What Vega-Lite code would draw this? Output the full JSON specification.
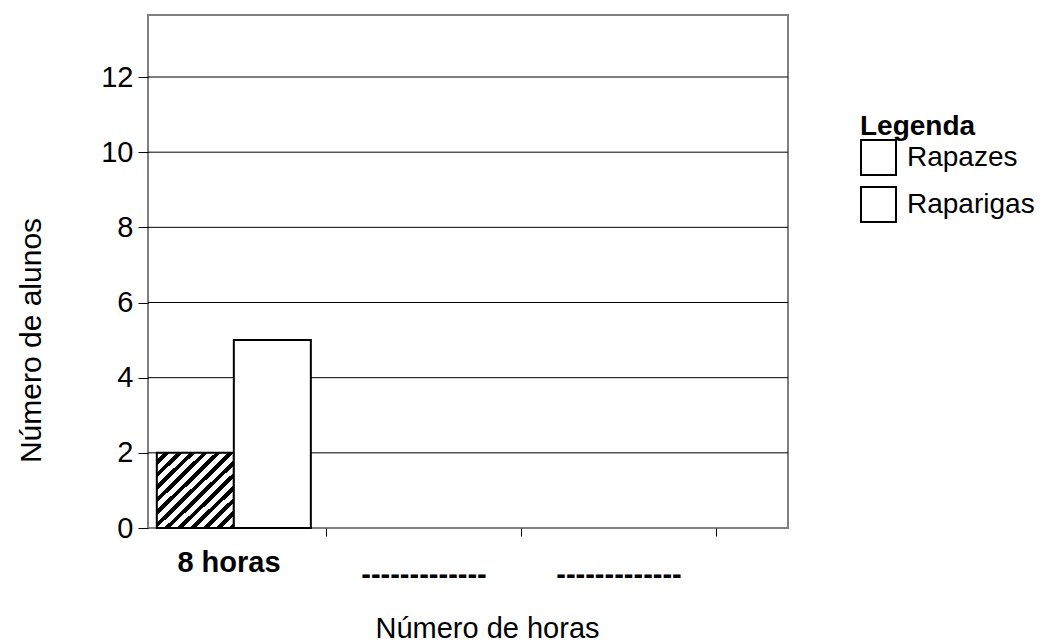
{
  "$schema": "https://vega.github.io/schema/vega-lite/v6.json",
  "autosize": {"type": "none"},
  "padding": {"left": 148, "top": 15, "right": 265, "bottom": 116},
  "width": 640,
  "height": 513,
  "config": {
    "font": "Liberation Sans",
    "view": {"stroke": "#808080", "strokeWidth": 2},
    "axis": {"labelColor": "black", "titleColor": "black", "titleFontWeight": "normal"}
  },
  "layer": [
    {
      "data": {"values": [{"linha": 2}, {"linha": 4}, {"linha": 6}, {"linha": 8}, {"linha": 10}, {"linha": 12}]},
      "mark": {"type": "rule", "color": "black", "strokeWidth": 1},
      "encoding": {
        "y": {"field": "linha", "type": "quantitative", "title": "Número de alunos", "scale": {"domain": [0, 13.65], "nice": false, "zero": true}}
      }
    },
    {
      "data": {
        "values": [
          {"horas": "8 horas", "genero": "Rapazes", "alunos": 2},
          {"horas": "8 horas", "genero": "Raparigas", "alunos": 5}
        ]
      },
      "mark": {"type": "bar", "strokeWidth": 2},
      "encoding": {
        "x": {
          "field": "horas",
          "type": "nominal",
          "scale": {"domain": ["8 horas", "h2", "h3"], "range": [-17, 568], "paddingInner": 0, "paddingOuter": 0},
          "axis": {
            "title": "Número de horas",
            "titleFontSize": 29,
            "titleX": 339,
            "titleY": 100,
            "titleAlign": "center",
            "titleBaseline": "middle",
            "labelAngle": 0,
            "labelExpr": "datum.value === '8 horas' ? '8 horas' : ((datum.value === 'h2' || datum.value === 'h3') ? '-------------' : '')",
            "labelFontSize": 29,
            "labelFontWeight": "bold",
            "labelPadding": {"condition": {"test": "datum.value === '8 horas'", "value": 12}, "value": 24},
            "domain": false,
            "grid": false,
            "tickBand": "extent",
            "tickColor": "black",
            "tickSize": 8,
            "tickWidth": 1,
            "tickOpacity": {"condition": {"test": "datum.value === '8 horas' || datum.value === 'h2' || datum.value === 'h3'", "value": 1}, "value": 0}
          }
        },
        "xOffset": {
          "field": "genero",
          "type": "nominal",
          "scale": {"domain": ["Rapazes", "Raparigas"], "paddingInner": 0, "paddingOuter": 0.266, "align": 0.63}
        },
        "y": {
          "field": "alunos",
          "type": "quantitative",
          "scale": {"domain": [0, 13.65], "nice": false, "zero": true},
          "axis": {
            "title": "Número de alunos",
            "titleFontSize": 30,
            "titleAngle": -90,
            "titleX": -117,
            "titleY": 325,
            "titleAlign": "center",
            "titleBaseline": "middle",
            "values": [0, 2, 4, 6, 8, 10, 12],
            "labelFontSize": 29,
            "labelPadding": 5,
            "domain": false,
            "grid": false,
            "tickColor": "black",
            "tickSize": 10,
            "tickWidth": 1
          }
        },
        "fill": {
          "condition": {
            "test": "datum.genero === 'Rapazes'",
            "value": {
              "gradient": "linear", "x1": 0, "y1": 0, "x2": 1, "y2": 1,
              "stops": [
                {"offset": 0, "color": "white"}, {"offset": 0.0458, "color": "white"}, {"offset": 0.0458, "color": "black"}, {"offset": 0.0833, "color": "black"},
                {"offset": 0.0833, "color": "white"}, {"offset": 0.1292, "color": "white"}, {"offset": 0.1292, "color": "black"}, {"offset": 0.1667, "color": "black"},
                {"offset": 0.1667, "color": "white"}, {"offset": 0.2125, "color": "white"}, {"offset": 0.2125, "color": "black"}, {"offset": 0.25, "color": "black"},
                {"offset": 0.25, "color": "white"}, {"offset": 0.2958, "color": "white"}, {"offset": 0.2958, "color": "black"}, {"offset": 0.3333, "color": "black"},
                {"offset": 0.3333, "color": "white"}, {"offset": 0.3792, "color": "white"}, {"offset": 0.3792, "color": "black"}, {"offset": 0.4167, "color": "black"},
                {"offset": 0.4167, "color": "white"}, {"offset": 0.4625, "color": "white"}, {"offset": 0.4625, "color": "black"}, {"offset": 0.5, "color": "black"},
                {"offset": 0.5, "color": "white"}, {"offset": 0.5458, "color": "white"}, {"offset": 0.5458, "color": "black"}, {"offset": 0.5833, "color": "black"},
                {"offset": 0.5833, "color": "white"}, {"offset": 0.6292, "color": "white"}, {"offset": 0.6292, "color": "black"}, {"offset": 0.6667, "color": "black"},
                {"offset": 0.6667, "color": "white"}, {"offset": 0.7125, "color": "white"}, {"offset": 0.7125, "color": "black"}, {"offset": 0.75, "color": "black"},
                {"offset": 0.75, "color": "white"}, {"offset": 0.7958, "color": "white"}, {"offset": 0.7958, "color": "black"}, {"offset": 0.8333, "color": "black"},
                {"offset": 0.8333, "color": "white"}, {"offset": 0.8792, "color": "white"}, {"offset": 0.8792, "color": "black"}, {"offset": 0.9167, "color": "black"},
                {"offset": 0.9167, "color": "white"}, {"offset": 0.9625, "color": "white"}, {"offset": 0.9625, "color": "black"}, {"offset": 1, "color": "black"}
              ]
            }
          },
          "value": "white"
        },
        "stroke": {
          "field": "genero",
          "type": "nominal",
          "scale": {"domain": ["Rapazes", "Raparigas"], "range": ["black", "black"]},
          "legend": {
            "title": "Legenda",
            "orient": "none",
            "legendX": 712,
            "legendY": 98,
            "padding": 0,
            "titleFontSize": 28,
            "titleFontWeight": "bold",
            "titleColor": "black",
            "titlePadding": -2,
            "symbolType": "square",
            "symbolSize": 1225,
            "symbolStrokeWidth": 2,
            "symbolOpacity": 1,
            "labelFontSize": 28,
            "labelColor": "black",
            "labelOffset": 10,
            "rowPadding": 4,
            "encode": {
              "symbols": {
                "update": {
                  "shape": [
                    {
                      "test": "datum.label === 'Rapazes' || datum.value === 'Rapazes'",
                      "value": "M-1,-1L1,-1L1,1L-1,1Z M-1,-0.5L-0.5,-1 M-1,-0.38L-0.38,-1 M-1,-0.1L-0.1,-1 M-1,0.22L0.22,-1 M-1,0.7L0.7,-1 M-1,0.82L0.82,-1 M-0.7,1L1,-0.7 M-0.58,1L1,-0.58 M-0.1,1L1,-0.1 M0.02,1L1,0.02 M0.5,1L1,0.5 M0.62,1L1,0.62"
                    },
                    {"value": "square"}
                  ],
                  "fill": {"value": "white"},
                  "strokeWidth": {"value": 2},
                  "opacity": {"value": 1}
                }
              }
            }
          }
        }
      }
    }
  ]
}
